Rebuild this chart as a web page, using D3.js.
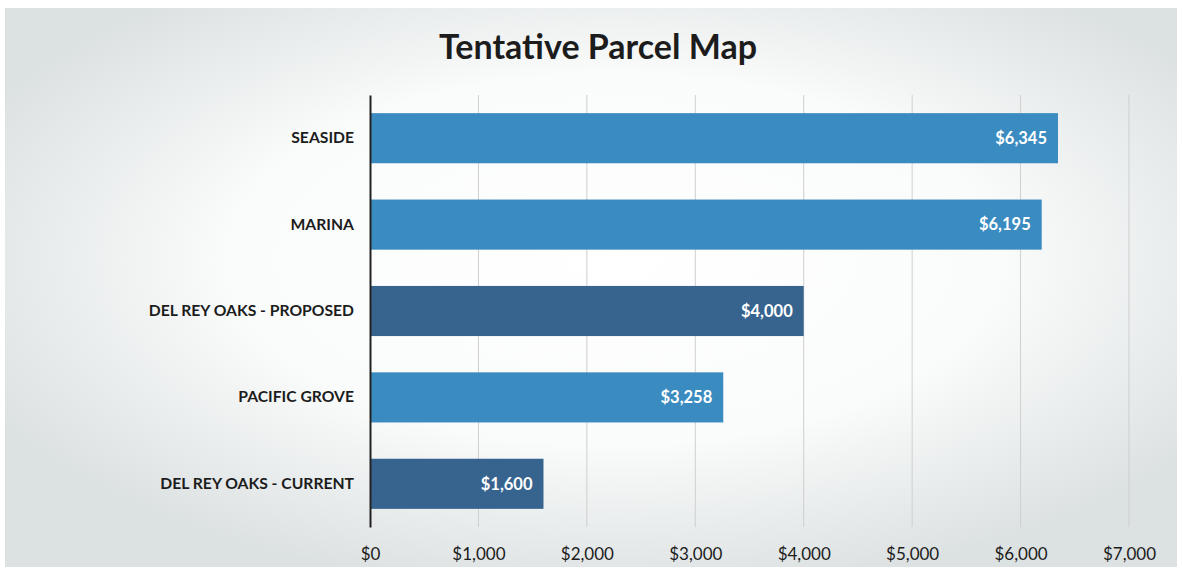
<!DOCTYPE html>
<html>
<head>
<meta charset="utf-8">
<script src="https://cdn.jsdelivr.net/npm/d3@7"></script>
<style>
  body { margin: 0; background: #fff; }
  svg { display: block; }
</style>
</head>
<body>
<div id="chart"></div>
<script>
// values
const categories = ["SEASIDE", "MARINA", "DEL REY OAKS - PROPOSED", "PACIFIC GROVE", "DEL REY OAKS - CURRENT"];
const values = [6345, 6195, 4000, 3258, 1600];
const highlight = [false, false, true, false, true];
const tickValues = [0, 1000, 2000, 3000, 4000, 5000, 6000, 7000];

const W = 1182, H = 571;
const margin = { left: 370, top: 95, right: 53, bottom: 44 };
const width = W - margin.left - margin.right;
const height = H - margin.top - margin.bottom;

const svg = d3.select("#chart").append("svg")
    .attr("width", W)
    .attr("height", H);

// scanned page background: white centre fading to grey at the edges
const defs = svg.append("defs");
const grad = defs.append("radialGradient")
    .attr("id", "bg")
    .attr("cx", "52%").attr("cy", "45%").attr("r", "60%");
grad.append("stop").attr("offset", "0%").attr("stop-color", "#ffffff");
grad.append("stop").attr("offset", "55%").attr("stop-color", "#fafbfb");
grad.append("stop").attr("offset", "100%").attr("stop-color", "#dce1e1");

svg.append("rect")
    .attr("x", 5).attr("y", 8)
    .attr("width", 1172).attr("height", 559)
    .attr("fill", "url(#bg)");

svg.append("text")
    .attr("x", 598).attr("y", 59)
    .attr("text-anchor", "middle")
    .style("font-family", "Lato, 'Open Sans', sans-serif")
    .style("font-weight", "bold")
    .style("font-size", "34px")
    .attr("fill", "#1c1c1c")
    .text("Tentative Parcel Map");

const g = svg.append("g").attr("transform", `translate(${margin.left},${margin.top})`);

const x = d3.scaleLinear().domain([0, 7000]).range([0, width]);
const y = d3.scaleBand().domain(categories).range([0, height]).paddingInner(0.42).paddingOuter(0.21);

// gridlines
g.selectAll(".grid")
    .data(tickValues.slice(1))
    .enter()
    .append("line")
    .attr("class", "grid")
    .attr("x1", d => x(d)).attr("x2", d => x(d))
    .attr("y1", 0).attr("y2", height)
    .attr("stroke", "#cfcfcf")
    .attr("stroke-width", 1);

// bars
g.selectAll(".bar")
    .data(values)
    .enter()
    .append("rect")
    .attr("class", "bar")
    .attr("x", 0)
    .attr("y", (d, i) => y(categories[i]))
    .attr("width", d => x(d))
    .attr("height", y.bandwidth())
    .attr("fill", (d, i) => highlight[i] ? "#36648f" : "#3a8bc0");

// value labels
g.selectAll(".val")
    .data(values)
    .enter()
    .append("text")
    .attr("class", "val")
    .attr("x", d => x(d) - 11)
    .attr("y", (d, i) => y(categories[i]) + y.bandwidth() / 2)
    .attr("dy", "0.35em")
    .attr("text-anchor", "end")
    .attr("fill", "#fff")
    .style("font-family", "Lato, 'Open Sans', sans-serif")
    .style("font-weight", "bold")
    .style("font-size", "16.5px")
    .text(d => d3.format("$,")(d));

// category axis
const yAxis = g.append("g").call(d3.axisLeft(y).tickSize(0).tickPadding(16));
yAxis.select(".domain").attr("stroke", "#222").attr("stroke-width", 2);
yAxis.selectAll("text")
    .style("font-family", "Lato, 'Open Sans', sans-serif")
    .style("font-weight", "bold")
    .style("font-size", "15.7px")
    .attr("fill", "#1c1c1c");

// value axis
const xAxis = g.append("g")
    .attr("transform", `translate(0,${height})`)
    .call(d3.axisBottom(x).tickValues(tickValues).tickSize(0).tickPadding(21).tickFormat(d3.format("$,")));
xAxis.select(".domain").remove();
xAxis.selectAll("text")
    .style("font-family", "Lato, 'Open Sans', sans-serif")
    .style("font-size", "17px")
    .attr("fill", "#1c1c1c");
</script>
</body>
</html>
